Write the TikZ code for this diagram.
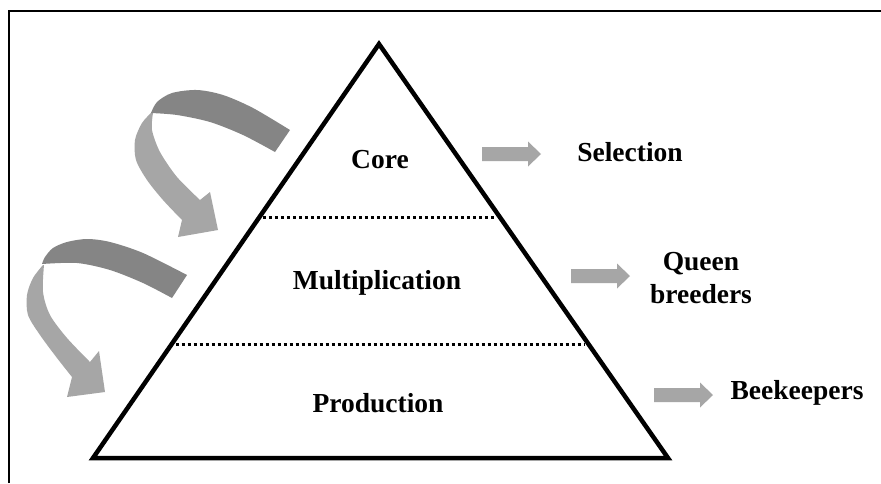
\documentclass[tikz,border=0pt]{standalone}
\usepackage{fontspec}
\setmainfont{Liberation Serif}
\usetikzlibrary{calc}
\begin{document}
\begin{tikzpicture}[x=1pt,y=-1pt,
  lbl/.style={font=\fontsize{27.5}{33}\selectfont\bfseries, inner sep=0pt, align=center},
  tri/.style={line width=4.5pt, line join=miter},
  level/.style={line width=3.2pt, dash pattern=on 3.2pt off 2.8pt},
  frame/.style={line width=2.5pt},
  bar/.pic={\fill[arrowlight] (0,-7) -- (46,-7) -- (46,-12.5) -- (59,0) -- (46,12.5) -- (46,7) -- (0,7) -- cycle;}
]
\definecolor{arrowlight}{HTML}{A6A6A6}
\definecolor{arrowdark}{HTML}{858585}
\useasboundingbox (0,0) rectangle (881,483);
\fill[white] (0,0) rectangle (881,483);
% frame
\draw[frame] (9,483) -- (9,11) -- (881,11);
% pyramid
\coordinate (apex) at (379,44);
\coordinate (bl) at (93,458);
\coordinate (br) at (668,458);
\draw[tri] (bl) -- (apex) -- (br) -- cycle;
\coordinate (l1) at ($(apex)!0.42!(bl)$);
\coordinate (r1) at ($(apex)!0.42!(br)$);
\coordinate (l2) at ($(apex)!0.725!(bl)$);
\coordinate (r2) at ($(apex)!0.725!(br)$);
\draw[level] ([xshift=4pt]l1) -- ([xshift=-4pt]r1);
\draw[level] ([xshift=4pt]l2) -- ([xshift=-4pt]r2);
% level labels
\node[lbl] (core) at (380,160) {Core};
\node[lbl] (mult) at (377,283) {Multiplication};
\node[lbl] (prod) at (378,403) {Production};
% outputs
\pic at (482,154) {bar};
\node[lbl] (sel) at (630,152) {Selection};
\pic at (571,276) {bar};
\node[lbl] (queen) at (701,278) {Queen\\breeders};
\pic at (654,395) {bar};
\node[lbl] (bee) at (797,393) {Beekeepers};
% upper curved arrow
\fill[arrowlight] plot[smooth] coordinates {(152,112) (142,123) (135,140) (136,160) (147,180) (163,200) (182,220)}
  -- (178,237) -- (218,230) -- (210,192)
  -- plot[smooth] coordinates {(200,200) (177,177) (160,152) (152,130) (153,113)} -- cycle;
\fill[arrowdark] plot[smooth] coordinates {(151,113) (157,102) (172,93) (197,90) (223,95) (253,108) (290,130)}
  -- plot[smooth] coordinates {(275,152) (243,135) (210,122) (177,115) (151,113)} -- cycle;
% lower curved arrow
\fill[arrowlight] plot[smooth] coordinates {(43,265) (33,278) (27,295) (28,315) (40,335) (57,358) (72,377)}
  -- (67,397) -- (105,392) -- (99,351)
  -- plot[smooth] coordinates {(90,362) (67,338) (50,315) (43,292) (44,265)} -- cycle;
\fill[arrowdark] plot[smooth] coordinates {(42,264) (45,257) (53,248) (67,242) (87,239) (110,242) (143,253) (187,275)}
  -- plot[smooth] coordinates {(172,298) (143,283) (110,270) (77,263) (42,264)} -- cycle;
\end{tikzpicture}
\end{document}
